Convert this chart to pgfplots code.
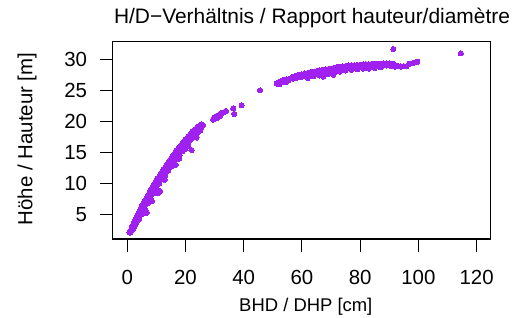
\documentclass[border=0pt]{standalone}
\usepackage{pgfplots}
\pgfplotsset{compat=1.18}
\usepackage{fontspec}
\setmainfont{Liberation Sans}
\definecolor{rpurple}{RGB}{160,32,240}
\begin{document}
\begin{tikzpicture}
\path (-112.7bp,-79bp) rectangle (414.3bp,239bp);
\begin{axis}[
  at={(0,0)}, anchor=south west,
  scale only axis, width=377.6bp, height=197.3bp,
  xmin=-5, xmax=124.7, ymin=1.09, ymax=32.83,
  xtick={0,20,40,60,80,100,120}, ytick={5,10,15,20,25,30},
  tick pos=left, tick align=outside,
  major tick length=12.7bp,
  axis line style={line width=1.1bp},
  every tick/.style={black, line width=1.0bp},
  /pgf/number format/assume math mode=true,
  xticklabel style={font=\fontsize{20.5}{24}\selectfont, anchor=base, inner sep=0pt, yshift=-32.6bp},
  yticklabel style={font=\fontsize{20.5}{24}\selectfont, anchor=east, inner sep=0pt, xshift=-12.7bp},
]
\addplot[rpurple, only marks, mark=*, mark size=2.6bp, mark options={solid, fill=rpurple, draw=rpurple, line width=0pt}] table {
x y
0.8 2.2
1.0 2.4
1.0 2.1
1.5 2.9
1.5 2.5
2.0 3.4
2.0 3.0
2.0 2.7
2.5 3.9
2.5 3.5
2.5 3.1
3.0 4.4
3.0 4.0
3.0 3.6
3.5 4.9
3.5 4.5
3.5 4.1
4.0 5.4
4.0 5.0
4.0 4.6
4.0 4.2
4.5 5.85
4.5 5.45
4.5 5.05
5.0 6.3
5.0 5.9
5.0 5.5
5.0 5.1
5.5 6.75
5.5 6.35
5.5 5.95
6.0 7.2
6.0 6.8
6.0 6.4
6.0 6.0
6.5 7.6
6.5 7.2
6.5 6.8
7.0 8.0
7.0 7.6
7.0 7.2
7.0 6.8
7.5 8.45
7.5 8.05
7.5 7.65
8.0 8.9
8.0 8.5
8.0 8.1
8.0 7.6
8.5 9.3
8.5 8.9
8.5 8.5
9.0 9.7
9.0 9.3
9.0 8.9
9.0 8.4
9.5 10.1
9.5 9.7
9.5 9.3
10.0 10.5
10.0 10.1
10.0 9.7
10.0 9.3
10.5 10.85
10.5 10.45
10.5 10.05
11.0 11.2
11.0 10.8
11.0 10.4
11.0 10.0
11.5 11.55
11.5 11.15
11.5 10.75
12.0 11.9
12.0 11.5
12.0 11.1
12.0 10.7
12.5 12.25
12.5 11.85
12.5 11.45
13.0 12.6
13.0 12.2
13.0 11.8
13.0 11.3
13.5 12.95
13.5 12.55
13.5 12.15
14.0 13.3
14.0 12.9
14.0 12.5
14.0 12.1
14.5 13.65
14.5 13.25
14.5 12.85
15.0 14.0
15.0 13.6
15.0 13.2
15.0 12.7
15.5 14.35
15.5 13.95
15.5 13.55
16.0 14.7
16.0 14.3
16.0 13.9
16.0 13.4
16.5 15.0
16.5 14.6
16.5 14.2
17.0 15.3
17.0 14.9
17.0 14.5
17.0 14.0
17.5 15.6
17.5 15.2
17.5 14.8
18.0 15.9
18.0 15.5
18.0 15.1
18.0 14.6
18.5 16.2
18.5 15.8
18.5 15.4
19.0 16.5
19.0 16.1
19.0 15.7
19.0 15.2
19.5 16.8
19.5 16.4
19.5 16.0
20.0 17.1
20.0 16.7
20.0 16.3
20.5 17.35
20.5 16.95
20.5 16.5
21.0 17.6
21.0 17.2
21.0 16.8
21.5 17.85
21.5 17.45
21.5 17.0
22.0 18.1
22.0 17.7
22.0 17.3
22.5 18.35
22.5 17.95
23.0 18.6
23.0 18.2
23.0 17.8
23.5 18.8
23.5 18.4
24.0 19.0
24.0 18.6
24.0 18.2
24.5 19.2
24.5 18.8
25.0 19.4
25.0 19.0
25.0 18.5
25.5 19.55
25.5 19.1
26.0 19.4
6.6 5.3
10.6 8.5
11.2 8.8
14.1 12.1
22.1 15.4
16.6 13.0
19.8 15.5
8.5 7.2
12.8 10.6
17.8 14.0
21.0 16.0
23.8 17.4
29.5 20.3
29.8 20.6
30.2 20.7
30.8 20.9
31.3 21.0
31.8 21.2
32.3 21.3
32.8 21.4
33.3 21.5
33.9 21.7
32.0 20.9
31.0 20.6
36.4 22.1
36.8 21.2
39.3 22.6
45.6 25.0
51.3 26.1
51.8 26.3
52.3 26.0
52.8 26.5
53.3 26.4
53.8 26.7
54.3 26.3
54.8 26.8
55.3 26.6
55.9 26.9
54.8 26.4
57 27.2
57 26.9
58 27.35
58 27.0
59 27.5
59 27.1
60 27.6
60 27.2
61 27.7
61 27.3
62 27.8
62 27.4
62 27.0
63 27.9
63 27.5
64 28.0
64 27.6
64 27.3
65 28.1
65 27.7
66 28.2
66 27.8
66 27.4
67 28.3
67 27.9
67.3 27.2
68 28.35
68 27.95
69 28.4
69 28.0
69 27.6
70 28.5
70 28.1
70.8 27.5
71 28.6
71 28.2
71 27.8
72 28.7
72 28.3
73 28.8
73 28.4
73 28.0
74 28.85
74 28.45
75 28.9
75 28.5
75 28.2
76 29.0
76 28.6
77 29.0
77 28.6
77 28.3
78 29.05
78 28.65
79 29.1
79 28.7
79 28.4
80 29.1
80 28.75
81 29.15
81 28.8
81 28.5
82 29.2
82 28.8
83 29.2
83 28.85
83 28.5
84 29.25
84 28.9
85 29.3
85 28.9
85 28.6
86 29.3
86 28.95
87 29.3
87 29.0
87 28.7
88 29.35
88 29.0
89 29.35
89 29.0
90 29.35
90 29.0
91 29.3
91 28.9
92 29.0
92 28.8
93 28.9
94 28.85
95 28.9
96 28.9
97 29.3
98 29.4
99 29.5
99.6 29.6
91.4 31.65
114.6 30.95
};
\end{axis}
\node[anchor=base, inner sep=0pt, font=\fontsize{21}{25}\selectfont] at (199.3bp,215.7bp) {H/D−Verhältnis / Rapport hauteur/diamètre};
\node[anchor=base, inner sep=0pt, font=\fontsize{18.5}{22}\selectfont] at (193.1bp,-72.7bp) {BHD / DHP [cm]};
\node[anchor=base, inner sep=0pt, rotate=90, font=\fontsize{20.5}{24}\selectfont] at (-80.4bp,100bp) {Höhe / Hauteur [m]};
\end{tikzpicture}
\end{document}
